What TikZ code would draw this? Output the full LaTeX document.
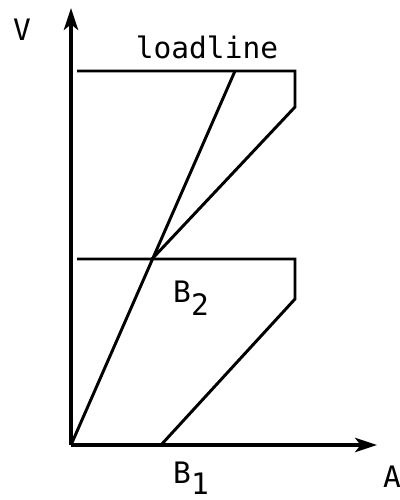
\documentclass[tikz,border=0pt]{standalone}
\usepackage{fontspec}
\setmonofont{DejaVu Sans Mono}
\usetikzlibrary{arrows.meta}

\begin{document}
\begin{tikzpicture}[
  x=0.025cm, y=0.025cm,
  font=\fontsize{21}{24}\selectfont\ttfamily,
  ln/.style={line width=2.1pt, line join=miter},
  axis/.style={line width=2.3pt, -{Stealth[length=5.5mm, width=3.6mm, inset=1.4mm]}},
  lbl/.style={inner sep=0pt, anchor=center}
]
\useasboundingbox (0,0) rectangle (400,500);
% axes
\coordinate (o) at (71,55);
\coordinate (vtop) at (71,492);
\coordinate (aend) at (377,55);
\draw[axis] (o) -- (vtop);
\draw[axis] (o) -- (aend);
% corner points
\coordinate (t1) at (77,429);
\coordinate (t2) at (295,429);
\coordinate (t3) at (295,393);
\coordinate (b2) at (152,241);
\coordinate (m1) at (77,241);
\coordinate (m2) at (295,241);
\coordinate (m3) at (295,201);
\coordinate (b1) at (161,55);
\coordinate (ld) at (235,429);
% load curves
\draw[ln] (t1) -- (t2) -- (t3) -- (b2);
\draw[ln] (m1) -- (m2) -- (m3) -- (b1);
\draw[ln] (o) -- (ld);
% labels
\node[lbl] (vl) at (22,470) {V};
\node[lbl] (al) at (392,23) {A};
\node[lbl] (ll) at (207,453) {loadline};
\node[lbl] (b2l) at (191,202) {B\raisebox{-9pt}{2}};
\node[lbl] (b1l) at (191,22) {B\raisebox{-8pt}{1}};
\end{tikzpicture}
\end{document}
